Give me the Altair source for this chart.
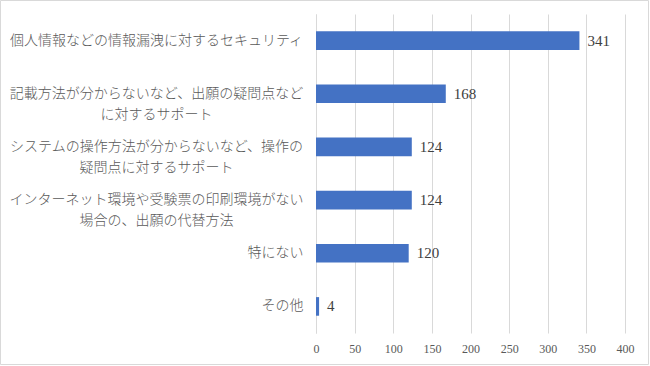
import altair as alt
import pandas as pd

categories = [
    "個人情報などの情報漏洩に対するセキュリティ",
    "記載方法が分からないなど、出願の疑問点など\nに対するサポート",
    "システムの操作方法が分からないなど、操作の\n疑問点に対するサポート",
    "インターネット環境や受験票の印刷環境がない\n場合の、出願の代替方法",
    "特にない",
    "その他",
]
values = [341, 168, 124, 124, 120, 4]
x_ticks = [0, 50, 100, 150, 200, 250, 300, 350, 400]

df = pd.DataFrame({"cat": categories, "val": values})

W, H = 309, 319
PAD = {"left": 316, "top": 14, "right": 650 - 316 - W, "bottom": 366 - 14 - H}

short_test = "datum.value == '特にない' || datum.value == 'その他'"

y_enc = alt.Y(
    "cat:N",
    sort=None,
    title=None,
    scale=alt.Scale(paddingInner=0.65, paddingOuter=0.325),
    axis=alt.Axis(
        labelExpr="split(datum.label, '\\n')",
        labelFont="Noto Sans CJK JP",
        labelFontSize=14,
        labelFontWeight=300,
        labelColor="#595959",
        labelLineHeight=21,
        labelLimit=400,
        labelBaseline="middle",
        labelAlign={"condition": {"test": short_test, "value": "right"}, "value": "center"},
        labelPadding={"condition": {"test": short_test, "value": 13}, "value": 160},
        ticks=False,
        domain=True,
        domainColor="#d9d9d9",
        domainWidth=1,
    ),
)

x_enc = alt.X(
    "val:Q",
    title=None,
    scale=alt.Scale(domain=[0, 400], nice=False),
    axis=alt.Axis(
        values=x_ticks,
        grid=True,
        gridColor="#d9d9d9",
        gridWidth=1,
        domain=False,
        ticks=False,
        labelOverlap=False,
        labelFlush=False,
        labelFont="Liberation Serif",
        labelFontSize=12,
        labelColor="#595959",
        labelPadding=10,
    ),
)

base = alt.Chart(df).encode(x=x_enc, y=y_enc)

bars = base.mark_bar(color="#4472C4")

labels = base.mark_text(
    align="left", baseline="middle", dx=8,
    font="Liberation Serif", fontSize=15, color="#404040",
).encode(text="val:Q")

frame = alt.Chart(alt.Data(values=[{"a": 1}])).mark_rect(
    fillOpacity=0, stroke="#d9d9d9", strokeWidth=1
).encode(
    x=alt.value(-315.5), x2=alt.value(332.5),
    y=alt.value(-13.5), y2=alt.value(350.5),
)

chart = alt.layer(bars, labels, frame).properties(
    width=W, height=H, padding=PAD,
    autosize=alt.AutoSizeParams(type="none"),
).configure(background="white").configure_view(stroke=None)

chart.save("out.html", embed_options={"renderer": "svg", "actions": False})
